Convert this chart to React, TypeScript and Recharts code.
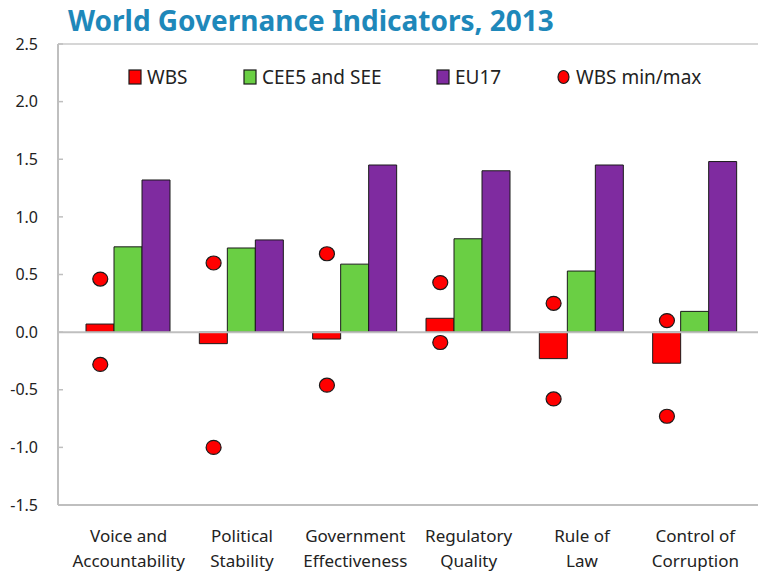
import React from "react";
import { ComposedChart, Bar, Scatter, XAxis, YAxis, ReferenceLine } from "recharts";

// Category labels (line break = wrapped axis label)
const CATEGORIES = [
  "Voice and\nAccountability",
  "Political\nStability",
  "Government\nEffectiveness",
  "Regulatory\nQuality",
  "Rule of\nLaw",
  "Control of\nCorruption",
];

const WBS = [0.07, -0.1, -0.06, 0.12, -0.23, -0.27];
const CEE_SEE = [0.74, 0.73, 0.59, 0.81, 0.53, 0.18];
const EU17 = [1.32, 0.8, 1.45, 1.4, 1.45, 1.48];
const WBS_MAX = [0.46, 0.6, 0.68, 0.43, 0.25, 0.1];
const WBS_MIN = [-0.28, -1.0, -0.46, -0.09, -0.58, -0.73];

const Y_TICKS = [-1.5, -1.0, -0.5, 0, 0.5, 1.0, 1.5, 2.0, 2.5];

const RED = "#FF0000";
const GREEN = "#6ACF44";
const PURPLE = "#7F2BA0";
const OUTLINE = "#1a1a1a";
const AXIS_GRAY = "#BFBFBF";
const TEXT = "#222222";

// dots sit over the WBS bar, one bar-width left of the category centre
const DOT_SHIFT = -28.4;

const data = CATEGORIES.map((name, i) => ({
  name,
  wbs: WBS[i],
  cee: CEE_SEE[i],
  eu: EU17[i],
  wbsMax: WBS_MAX[i],
  wbsMin: WBS_MIN[i],
}));

function MinMaxDot(props: any) {
  if (props.cx == null || props.cy == null) return null;
  return (
    <ellipse
      cx={props.cx + DOT_SHIFT}
      cy={props.cy}
      rx={7.5}
      ry={7}
      fill={RED}
      stroke={OUTLINE}
      strokeWidth={1.2}
    />
  );
}

function CategoryTick(props: any) {
  const { x, y, payload } = props;
  const lines = String(payload.value).split("\n");
  return (
    <text x={x} y={y} textAnchor="middle" fill={TEXT} fontSize={17}>
      {lines.map((ln, i) => (
        <tspan key={i} x={x} y={y + 37 + i * 25}>
          {ln}
        </tspan>
      ))}
    </text>
  );
}

const LEGEND = [
  { label: "WBS", color: RED, x: 129, kind: "square" },
  { label: "CEE5 and SEE", color: GREEN, x: 244, kind: "square" },
  { label: "EU17", color: PURPLE, x: 437, kind: "square" },
  { label: "WBS min/max", color: RED, x: 558, kind: "dot" },
];

export default function App() {
  return (
    <div
      style={{
        position: "absolute",
        left: 0,
        top: 0,
        width: 759,
        height: 574,
        background: "#fff",
        fontFamily: "'Noto Sans', sans-serif",
      }}
    >
      <ComposedChart
        width={759}
        height={574}
        data={data}
        margin={{ top: 44, right: 1, bottom: 9, left: 0 }}
        barCategoryGap={14}
        barGap={0}
      >
        <XAxis
          dataKey="name"
          type="category"
          interval={0}
          padding={{ left: 14, right: 6 }}
          height={60}
          tickSize={0}
          tickMargin={0}
          tickLine={false}
          axisLine={{ stroke: AXIS_GRAY, strokeWidth: 2 }}
          tick={<CategoryTick />}
        />
        <YAxis
          type="number"
          domain={[-1.5, 2.5]}
          ticks={Y_TICKS}
          interval={0}
          width={58}
          tickSize={-5}
          tickMargin={25}
          tickFormatter={(v: number) => v.toFixed(1)}
          tick={{ fontSize: 16, fill: TEXT }}
          tickLine={{ stroke: AXIS_GRAY, strokeWidth: 1.5 }}
          axisLine={{ stroke: AXIS_GRAY, strokeWidth: 2 }}
        />
        <ReferenceLine y={2.5} stroke="#C8C8C8" strokeWidth={1.5} />
        <ReferenceLine y={0} stroke={AXIS_GRAY} strokeWidth={2} />
        <Bar dataKey="wbs" fill={RED} stroke={OUTLINE} strokeWidth={1} isAnimationActive={false} />
        <Bar dataKey="cee" fill={GREEN} stroke={OUTLINE} strokeWidth={1} isAnimationActive={false} />
        <Bar dataKey="eu" fill={PURPLE} stroke={OUTLINE} strokeWidth={1} isAnimationActive={false} />
        <Scatter dataKey="wbsMax" fill={RED} shape={MinMaxDot} isAnimationActive={false} />
        <Scatter dataKey="wbsMin" fill={RED} shape={MinMaxDot} isAnimationActive={false} />
      </ComposedChart>

      {/* title + legend overlay */}
      <svg
        width={759}
        height={100}
        style={{ position: "absolute", left: 0, top: 0, pointerEvents: "none" }}
      >
        <text x={68} y={31} fontSize={28} fontWeight="bold" fill="#1E88BA">
          World Governance Indicators, 2013
        </text>
        {LEGEND.map((item) => (
          <g key={item.label}>
            {item.kind === "square" ? (
              <rect x={item.x} y={70} width={12} height={14} fill={item.color} stroke={OUTLINE} strokeWidth={1.2} />
            ) : (
              <ellipse cx={item.x + 5.5} cy={77} rx={5.5} ry={6.5} fill={item.color} stroke={OUTLINE} strokeWidth={1.2} />
            )}
            <text x={item.x + 18} y={84} fontSize={19} fill={TEXT}>
              {item.label}
            </text>
          </g>
        ))}
      </svg>
    </div>
  );
}
